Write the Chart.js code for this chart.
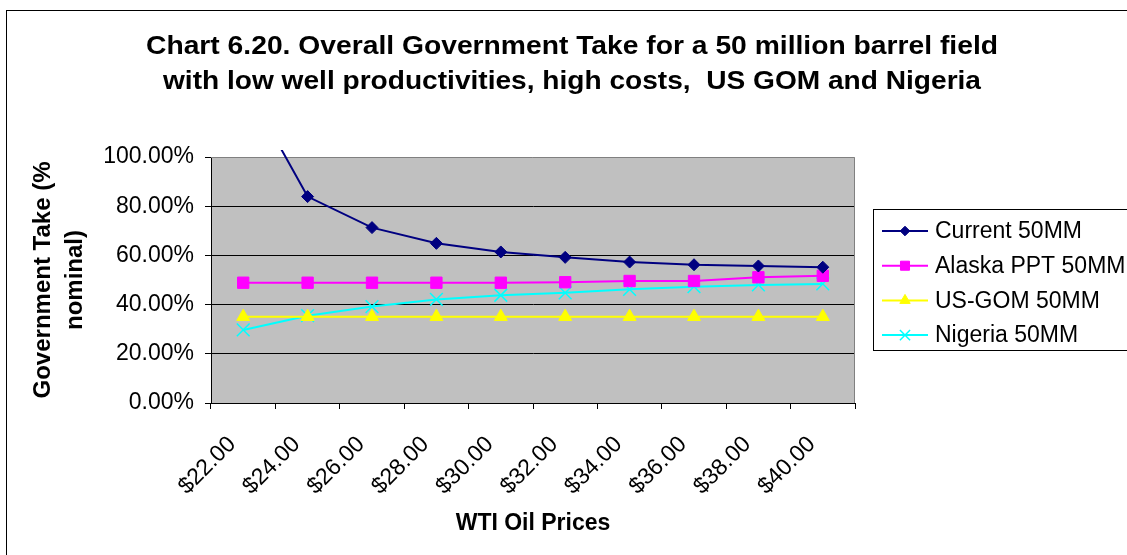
<!DOCTYPE html>
<html>
<head>
<meta charset="utf-8">
<script src="https://cdn.jsdelivr.net/npm/chart.js@4.4.0/dist/chart.umd.min.js"></script>
<style>
  html, body { margin: 0; padding: 0; background: #fff; }
  #grafico { display: block; }
</style>
</head>
<body>
<canvas id="grafico" width="1127" height="555"></canvas>
<script>
// valores (em %)
const precos = ['$22.00', '$24.00', '$26.00', '$28.00', '$30.00', '$32.00', '$34.00', '$36.00', '$38.00', '$40.00'];
const current50 = [131, 83.9, 71.3, 64.9, 61.4, 59.2, 57.3, 56.2, 55.7, 55.2];
const alaska50 = [48.9, 48.9, 48.9, 48.9, 48.9, 49.1, 49.6, 49.6, 51.1, 51.7];
const usGom50 = [35.1, 35.1, 35.1, 35.1, 35.1, 35.1, 35.1, 35.1, 35.1, 35.1];
const nigeria50 = [29.7, 35.5, 39.2, 42.1, 43.8, 44.8, 46.2, 47.3, 48.0, 48.4];
const yTicks = [0, 20, 40, 60, 80, 100];

const titulo = [
  'Chart 6.20. Overall Government Take for a 50 million barrel field',
  'with low well productivities, high costs,  US GOM and Nigeria'
];
const fonte = "'Liberation Sans', Arial, sans-serif";

// escreve o texto esticado para a largura medida no original
function textoLargura(c, txt, x, y, largura) {
  const w = c.measureText(txt).width;
  c.save();
  c.translate(x, y);
  c.scale(largura / w, 1);
  c.fillText(txt, 0, 0);
  c.restore();
}

// fundo cinza da area do grafico, titulo, legenda e bordas
const extras = {
  id: 'extras',
  beforeDraw(chart) {
    const c = chart.ctx;
    const a = chart.chartArea;
    c.save();
    c.fillStyle = '#fff';
    c.fillRect(0, 0, chart.width, chart.height);
    c.fillStyle = '#C0C0C0';
    c.fillRect(a.left, a.top, a.right - a.left, a.bottom - a.top);
    c.restore();
  },
  beforeDatasetsDraw(chart) {
    const c = chart.ctx;
    const a = chart.chartArea;
    c.save();
    c.strokeStyle = '#808080';
    c.lineWidth = 1;
    c.beginPath();
    c.moveTo(a.left, a.top + 0.5);
    c.lineTo(a.right - 0.5, a.top + 0.5);
    c.lineTo(a.right - 0.5, a.bottom);
    c.stroke();
    c.restore();
  },
  afterDraw(chart) {
    const c = chart.ctx;
    c.save();
    // borda externa
    c.strokeStyle = '#000';
    c.lineWidth = 1;
    c.strokeRect(6.5, 10.5, 1130, 560);

    // titulo
    c.fillStyle = '#000';
    c.font = 'bold 26px ' + fonte;
    c.textAlign = 'center';
    c.textBaseline = 'middle';
    textoLargura(c, titulo[0], 572, 47, 852);
    textoLargura(c, titulo[1], 572, 82, 818);

    // legenda
    c.strokeStyle = '#000';
    c.strokeRect(873.5, 209.5, 270, 141);
    c.font = '23px ' + fonte;
    c.textAlign = 'left';
    chart.data.datasets.forEach((ds, i) => {
      const y = 231 + i * 34.7;
      c.strokeStyle = ds.borderColor;
      c.lineWidth = 2;
      c.beginPath();
      c.moveTo(882, y);
      c.lineTo(928, y);
      c.stroke();
      c.fillStyle = ds.pointBackgroundColor;
      c.strokeStyle = ds.pointBorderColor;
      c.lineWidth = ds.pointBorderWidth;
      Chart.helpers.drawPoint(c, {
        pointStyle: ds.pointStyle,
        rotation: 0,
        radius: ds.pointRadius * 0.8,
        borderWidth: ds.pointBorderWidth
      }, 905, y);
      c.fillStyle = '#000';
      c.fillText(ds.label, 935, y + 1);
    });
    c.restore();
  }
};

const dados = {
  labels: precos,
  datasets: [
    {
      label: 'Current 50MM',
      data: current50,
      borderColor: '#000080',
      backgroundColor: '#000080',
      pointBackgroundColor: '#000080',
      pointBorderColor: '#000080',
      pointStyle: 'rectRot',
      pointRadius: 6,
      pointBorderWidth: 1,
      borderWidth: 2,
      clip: { left: 5, top: 7, right: 5, bottom: 5 }
    },
    {
      label: 'Alaska PPT 50MM',
      data: alaska50,
      borderColor: '#FF00FF',
      backgroundColor: '#FF00FF',
      pointBackgroundColor: '#FF00FF',
      pointBorderColor: '#FF00FF',
      pointStyle: 'rect',
      pointRadius: 8,
      pointBorderWidth: 1,
      borderWidth: 2
    },
    {
      label: 'US-GOM 50MM',
      data: usGom50,
      borderColor: '#FFFF00',
      backgroundColor: '#FFFF00',
      pointBackgroundColor: '#FFFF00',
      pointBorderColor: '#FFFF00',
      pointStyle: 'triangle',
      pointRadius: 7.5,
      pointBorderWidth: 1,
      borderWidth: 2
    },
    {
      label: 'Nigeria 50MM',
      data: nigeria50,
      borderColor: '#00FFFF',
      backgroundColor: '#00FFFF',
      pointBackgroundColor: '#00FFFF',
      pointBorderColor: '#00FFFF',
      pointStyle: 'crossRot',
      pointRadius: 9,
      pointBorderWidth: 1.5,
      borderWidth: 2
    }
  ]
};

const config = {
  type: 'line',
  data: dados,
  options: {
    responsive: false,
    devicePixelRatio: 1,
    animation: false,
    events: [],
    layout: { padding: { left: 10, top: 157, right: 272, bottom: 0 } },
    elements: { line: { tension: 0 } },
    plugins: {
      legend: { display: false },
      title: { display: false },
      tooltip: { enabled: false }
    },
    scales: {
      x: {
        type: 'category',
        offset: true,
        grid: {
          offset: true,
          drawOnChartArea: false,
          drawTicks: true,
          tickLength: 6,
          color: '#000',
          tickColor: '#000'
        },
        border: { color: '#000', width: 1 },
        ticks: {
          autoSkip: false,
          minRotation: 45,
          maxRotation: 45,
          color: '#000',
          padding: 22,
          labelOffset: -11,
          font: { family: fonte, size: 23 }
        },
        title: {
          display: true,
          text: 'WTI Oil Prices',
          color: '#000',
          font: { family: fonte, size: 23, weight: 'bold' },
          padding: { top: 0, bottom: 18 }
        },
        afterFit(s) { s.height = 152; }
      },
      y: {
        min: 0,
        max: 100,
        afterBuildTicks(s) { s.ticks = yTicks.map(v => ({ value: v })); },
        grid: {
          color: (ctx) => (ctx.tick && ctx.tick.value === 100 ? 'rgba(0,0,0,0)' : '#000'),
          tickColor: '#000',
          tickLength: 6,
          lineWidth: 1
        },
        border: { color: '#000', width: 1 },
        ticks: {
          color: '#000',
          padding: 11,
          font: { family: fonte, size: 23 },
          callback: (v) => Number(v).toFixed(2) + '%'
        },
        title: {
          display: true,
          text: ['Government Take (%', 'nominal)'],
          color: '#000',
          font: { family: fonte, size: 24, weight: 'bold', lineHeight: 1.35 },
          padding: { top: 17, bottom: 0 }
        },
        afterFit(s) { s.width = 201; }
      }
    }
  },
  plugins: [extras]
};

const grafico = new Chart(document.getElementById('grafico'), config);
</script>
</body>
</html>
